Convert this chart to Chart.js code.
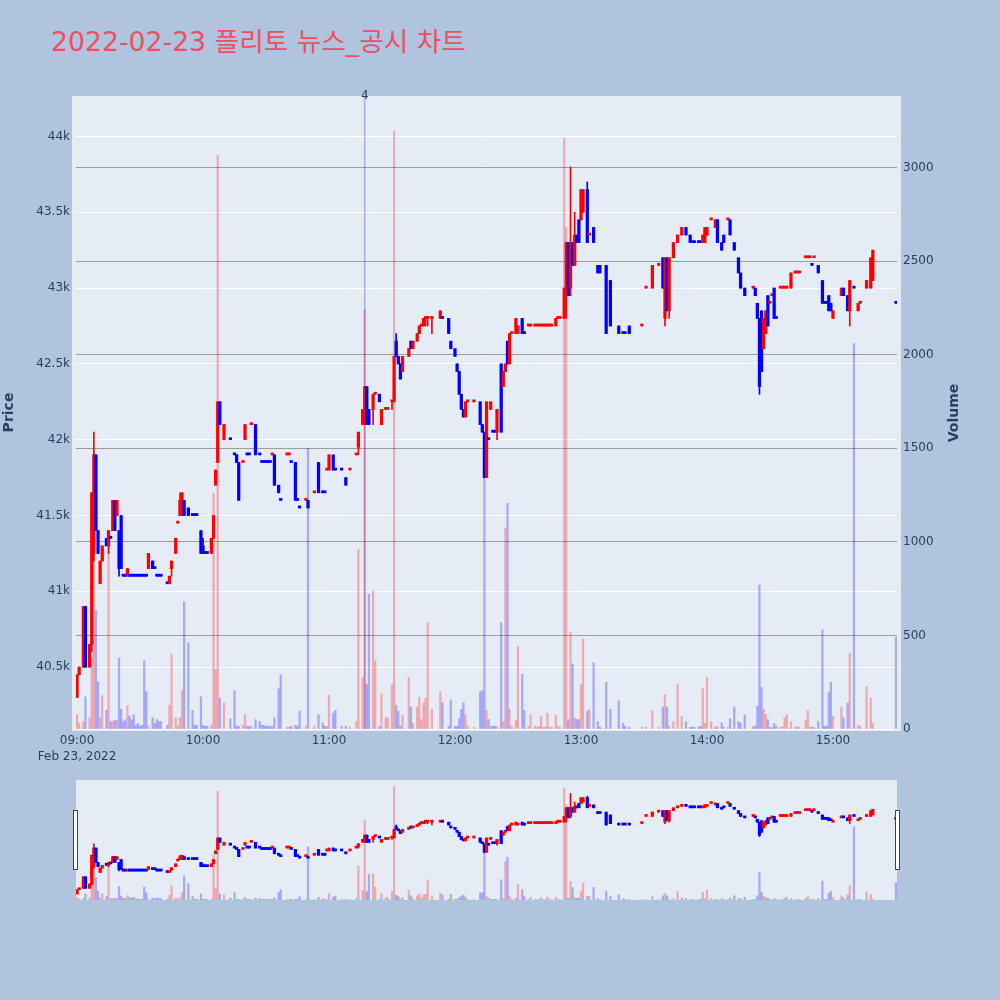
<!DOCTYPE html>
<html lang="ko">
<head>
<meta charset="utf-8">
<title>2022-02-23 플리토 뉴스_공시 차트</title>
<script src="https://cdn.jsdelivr.net/npm/chart.js@4.4.1/dist/chart.umd.min.js"></script>
<style>
  html, body { margin:0; padding:0; background:#B0C4DE; }
  body { width:1000px; height:1000px; position:relative; overflow:hidden; font-family:'DejaVu Sans','Noto Sans CJK KR',sans-serif; }
  #title { position:absolute; left:51px; top:28px; font-size:26.7px; line-height:27px; color:#EC5064; white-space:nowrap; }
  #mainChart { position:absolute; left:0; top:0; }
  #sliderChart { position:absolute; left:0; top:770px; }
  #volTitle { position:absolute; left:913px; top:403px; width:80px; height:20px; line-height:20px; text-align:center; transform:rotate(-90deg); font-weight:bold; font-size:14px; color:#2a3f5f; }
</style>
</head>
<body>
<div id="title">2022-02-23 플리토 뉴스_공시 차트</div>
<canvas id="mainChart" width="1000" height="770"></canvas>
<canvas id="sliderChart" width="1000" height="140"></canvas>
<div id="volTitle">Volume</div>
<script>
// ---- data: minute offsets from 09:00, OHLC and volume ----
const minutes = [
  0,1,3,4,6,7,8,9,10,11,
  12,14,15,16,17,18,19,20,21,22,
  23,24,25,26,27,28,29,30,31,32,
  33,34,36,37,38,39,40,43,44,45,
  47,48,49,50,51,53,55,56,57,59,
  60,61,62,64,65,66,67,68,70,73,
  75,76,77,79,80,81,82,83,85,87,
  88,89,90,91,92,93,94,96,97,100,
  101,102,104,105,106,109,110,113,115,117,
  118,119,120,122,123,126,128,130,133,134,
  136,137,138,139,141,142,144,145,147,148,
  150,151,152,153,154,155,158,159,160,162,
  163,164,165,166,167,169,173,174,177,178,
  180,181,182,183,184,185,186,189,192,193,
  194,195,196,197,198,199,200,202,203,204,
  205,206,207,209,210,212,213,215,216,218,
  219,220,221,222,223,224,225,226,228,229,
  230,232,233,234,235,236,237,238,239,240,
  241,243,244,246,248,249,252,254,258,260,
  261,263,269,271,274,277,279,280,281,282,
  284,286,288,290,292,293,294,296,297,298,
  299,300,302,304,305,307,308,310,311,313,
  315,316,318,322,323,324,325,326,327,328,
  329,330,331,332,333,335,336,337,338,340,
  342,343,344,347,348,349,350,351,353,355,
  356,357,358,359,360,364,365,367,368,370,
  372,373,376,378,379,390
];
const opens = [
  40300,40450,40500,40900,40500,40650,41250,41900,41400,41050,
  41200,41350,41300,41350,41400,41600,41500,41400,41500,41100,
  41100,41100,41100,41100,41100,41100,41100,41100,41100,41100,
  41100,41150,41200,41150,41100,41100,41100,41050,41050,41150,
  41250,41450,41500,41500,41600,41550,41500,41500,41500,41400,
  41300,41250,41250,41250,41350,41700,41850,42250,42000,42000,
  41900,41900,41850,41850,42000,41900,41900,42100,42100,41900,
  41850,41850,41850,41850,41850,41900,41900,41700,41600,41900,
  41900,41850,41850,41600,41550,41600,41600,41650,41850,41650,
  41650,41800,41800,41900,41800,41800,41750,41800,41900,41950,
  42100,42100,42350,42200,42200,42300,42300,42100,42200,42200,
  42250,42250,42650,42550,42500,42450,42550,42650,42600,42650,
  42700,42750,42750,42800,42800,42800,42800,42800,42800,42650,
  42600,42500,42450,42300,42200,42150,42250,42250,42250,42100,
  42050,41750,42000,42200,42050,42050,42050,42500,42350,42450,
  42650,42500,42700,42700,42700,42800,42700,42750,42750,42750,
  42750,42750,42750,42750,42750,42750,42750,42750,42750,42800,
  42800,42800,43000,43300,43000,43300,43150,43350,43450,43450,
  43500,43650,43350,43400,43150,43150,43150,43050,42750,42700,
  42700,42750,42750,43000,43000,43150,43200,42800,43200,42850,
  43200,43300,43350,43400,43350,43300,43300,43300,43300,43300,
  43300,43350,43450,43400,43450,43300,43350,43450,43450,43300,
  43200,43100,43000,43000,43000,42900,42800,42850,42600,42700,
  42950,42900,42950,43000,42800,43000,43000,43000,43000,43000,
  43100,43100,43100,43200,43200,43200,43150,43200,43150,43050,
  42900,42900,42950,42900,42800,42950,43000,42950,42850,43000,
  42850,42900,43000,43000,43050,42900
];
const highs = [
  40450,40500,40900,40900,40650,41650,42050,41900,41400,41200,
  41300,41350,41400,41350,41600,41600,41600,41400,41500,41100,
  41100,41150,41100,41100,41100,41100,41100,41100,41100,41100,
  41100,41250,41200,41150,41100,41100,41100,41050,41100,41200,
  41350,41450,41650,41650,41600,41550,41500,41500,41500,41400,
  41350,41250,41250,41350,41500,41800,42250,42250,42100,42000,
  41900,41900,41850,41850,42100,41900,41900,42100,42100,41900,
  41850,41850,41850,41850,41850,41900,41900,41700,41600,41900,
  41900,41850,41850,41600,41550,41600,41600,41650,41850,41650,
  41650,41800,41900,41900,41800,41800,41750,41800,41900,42050,
  42200,42350,42350,42200,42300,42300,42300,42200,42200,42200,
  42250,42550,42700,42550,42500,42550,42600,42650,42650,42700,
  42750,42750,42800,42800,42800,42800,42850,42800,42800,42650,
  42600,42500,42450,42300,42200,42250,42250,42250,42250,42100,
  42050,42250,42000,42250,42050,42050,42200,42500,42450,42500,
  42650,42700,42700,42800,42750,42800,42700,42750,42750,42750,
  42750,42750,42750,42750,42750,42750,42750,42750,42800,42800,
  42800,43000,43300,43300,43800,43300,43500,43350,43450,43650,
  43650,43700,43350,43400,43150,43150,43150,43050,42750,42700,
  42700,42750,42750,43000,43150,43150,43200,43200,43200,43200,
  43300,43350,43400,43400,43350,43300,43300,43300,43300,43350,
  43400,43400,43450,43450,43450,43300,43350,43450,43450,43300,
  43200,43100,43000,43000,43000,42900,42800,42850,42800,42850,
  42950,42900,42950,43000,42800,43000,43000,43000,43000,43100,
  43100,43100,43100,43200,43200,43200,43150,43200,43150,43050,
  42900,42900,42950,42900,42850,43000,43000,42950,43050,43000,
  42900,42900,43050,43200,43250,42900
];
const lows = [
  40300,40450,40500,40500,40500,40600,41200,41400,41250,41050,
  41200,41300,41250,41350,41400,41400,41500,41100,41150,41100,
  41100,41100,41100,41100,41100,41100,41100,41100,41100,41100,
  41100,41150,41150,41150,41100,41100,41100,41050,41050,41100,
  41250,41450,41500,41500,41500,41500,41500,41500,41500,41250,
  41250,41250,41250,41250,41350,41700,41850,42100,42000,42000,
  41900,41850,41600,41850,42000,41900,41900,42100,41900,41900,
  41850,41850,41850,41850,41850,41900,41700,41650,41600,41900,
  41900,41850,41600,41600,41550,41600,41550,41650,41650,41650,
  41650,41800,41800,41800,41800,41800,41700,41800,41900,41900,
  42100,42100,42100,42100,42100,42300,42250,42100,42200,42200,
  42200,42250,42550,42500,42400,42450,42550,42600,42600,42650,
  42700,42750,42750,42750,42750,42700,42800,42800,42700,42600,
  42550,42450,42300,42200,42150,42150,42250,42250,42100,42050,
  41750,41750,42000,42200,42050,42050,42000,42050,42350,42450,
  42500,42500,42700,42700,42700,42700,42700,42750,42750,42750,
  42750,42750,42750,42750,42750,42750,42750,42750,42750,42800,
  42800,42800,42800,42950,42950,43150,43150,43300,43300,43450,
  43500,43300,43350,43300,43100,43100,42700,42750,42700,42700,
  42700,42700,42750,43000,43000,43150,43000,42750,42850,42800,
  43200,43300,43350,43350,43300,43300,43300,43300,43300,43300,
  43300,43350,43450,43400,43300,43250,43300,43450,43350,43250,
  43100,43000,42950,43000,42950,42800,42300,42450,42600,42700,
  42750,42900,42950,42800,42800,43000,43000,43000,43000,43000,
  43100,43100,43100,43200,43200,43200,43150,43200,43100,42900,
  42900,42900,42850,42850,42800,42950,42950,42850,42750,43000,
  42850,42900,43000,43000,43050,42900
];
const closes = [
  40450,40500,40900,40500,40650,41650,41900,41400,41250,41200,
  41300,41300,41400,41350,41600,41400,41600,41150,41150,41100,
  41100,41150,41100,41100,41100,41100,41100,41100,41100,41100,
  41100,41250,41150,41150,41100,41100,41100,41050,41100,41200,
  41350,41450,41600,41650,41500,41500,41500,41500,41500,41250,
  41250,41250,41250,41350,41500,41800,42250,42100,42100,42000,
  41900,41850,41600,41850,42100,41900,41900,42100,41900,41900,
  41850,41850,41850,41850,41850,41900,41700,41650,41600,41900,
  41900,41850,41600,41600,41550,41600,41550,41650,41650,41650,
  41650,41800,41900,41800,41800,41800,41700,41800,41900,42050,
  42200,42350,42100,42100,42300,42300,42250,42200,42200,42200,
  42250,42550,42550,42500,42400,42550,42600,42600,42650,42700,
  42750,42750,42800,42800,42800,42800,42850,42800,42700,42600,
  42550,42450,42300,42200,42150,42250,42250,42250,42100,42050,
  41750,42250,42000,42250,42050,42050,42200,42050,42450,42500,
  42500,42700,42700,42800,42750,42700,42700,42750,42750,42750,
  42750,42750,42750,42750,42750,42750,42750,42750,42800,42800,
  42800,43000,43300,42950,43300,43150,43350,43300,43300,43650,
  43650,43300,43350,43300,43100,43100,42700,42750,42700,42700,
  42700,42700,42750,43000,43150,43150,43000,43200,42850,43200,
  43300,43350,43400,43350,43300,43300,43300,43300,43300,43350,
  43400,43400,43450,43450,43300,43250,43300,43450,43350,43250,
  43100,43000,42950,43000,42950,42800,42350,42450,42800,42850,
  42750,42900,42950,42800,42800,43000,43000,43000,43000,43100,
  43100,43100,43100,43200,43200,43200,43150,43200,43100,42900,
  42900,42900,42850,42850,42850,43000,42950,42850,43050,43000,
  42900,42900,43050,43200,43250,42900
];
const volumes = [
  77,30,40,172,60,380,1470,634,250,60,
  178,100,950,40,40,46,46,380,105,40,
  50,123,68,50,77,20,30,15,20,365,
  200,15,60,30,50,40,40,20,128,400,
  60,15,60,205,680,460,100,20,20,172,
  20,15,15,20,1260,315,3065,165,140,55,
  205,15,15,20,77,15,15,15,50,40,
  20,20,15,15,15,15,60,215,290,10,
  10,15,20,15,95,15,1500,15,77,33,
  15,15,180,85,100,15,15,10,40,960,
  275,2240,238,720,737,363,15,187,60,60,
  238,3196,128,95,15,73,275,117,30,117,
  172,50,140,165,568,105,200,140,15,155,
  15,15,55,105,140,77,15,10,200,205,
  1348,100,50,15,15,15,15,568,40,1074,
  1206,105,15,45,442,293,99,15,77,15,
  10,15,68,10,10,84,10,10,73,15,
  10,3157,2680,50,517,348,60,50,50,238,
  480,95,105,355,40,10,250,105,150,30,
  15,10,10,10,100,10,117,183,117,15,
  40,238,68,40,10,10,10,10,15,215,
  30,275,40,15,10,33,10,10,55,117,
  40,33,75,15,15,121,770,222,105,77,
  50,10,10,30,15,10,10,60,77,40,
  10,10,10,46,99,10,10,10,40,530,
  15,15,194,250,70,117,60,140,403,2060,
  20,15,227,165,30,490
];
const tickMinutes = [0,60,120,180,240,300,360];
const tickLabels = ['09:00','10:00','11:00','12:00','13:00','14:00','15:00'];
const dateLabel = 'Feb 23, 2022';
const priceTicks = [40500,41000,41500,42000,42500,43000,43500,44000];
const volumeTicks = [0,500,1000,1500,2000,2500,3000];
const newsMinutes = [137];
const newsLabels = ['4'];

// ---- styling ----
const FONT = "'DejaVu Sans', sans-serif";
const TXT = '#2a3f5f';
const UP = '#FF0000', DOWN = '#0000FF';
const PRICE_MIN = 40092, PRICE_MAX = 44267, VOL_MAX = 3383;
Chart.defaults.font.family = FONT;

const dirs = [];
let prevDir = 1;
for (let i = 0; i < minutes.length; i++) {
  let d;
  if (closes[i] > opens[i]) d = 1;
  else if (closes[i] < opens[i]) d = -1;
  else if (i > 0 && closes[i] > closes[i-1]) d = 1;
  else if (i > 0 && closes[i] < closes[i-1]) d = -1;
  else d = prevDir;
  dirs.push(d); prevDir = d;
}
const candleColors = dirs.map(d => d > 0 ? UP : DOWN);
const volColors = dirs.map(d => d > 0 ? 'rgba(255,0,0,0.28)' : 'rgba(0,0,255,0.28)');

function buildDatasets() {
  return [
    { label:'Volume', data: minutes.map((m,i) => ({x:m, y:volumes[i]})), yAxisID:'y1',
      backgroundColor: volColors, barThickness:1.6, grouped:false, order:3 },
    { label:'High-Low', data: minutes.map((m,i) => ({x:m, y:[lows[i], highs[i]]})), yAxisID:'y',
      backgroundColor: candleColors, barThickness:1, grouped:false, order:2 },
    { label:'Open-Close', data: minutes.map((m,i) => ({x:m, y:[opens[i], closes[i]]})), yAxisID:'y',
      backgroundColor: candleColors, barThickness:2.6, minBarLength:2, grouped:false, order:1 }
  ];
}

const plotBg = {
  id:'plotBg',
  beforeDraw(chart, args, opts) {
    const a = chart.chartArea, ctx = chart.ctx;
    ctx.save();
    ctx.fillStyle = '#E5ECF6';
    ctx.fillRect(a.left - opts.padX, a.top, a.right - a.left + 2*opts.padX, a.bottom - a.top + opts.padBottom);
    ctx.restore();
  }
};
const newsMarker = {
  id:'newsMarker',
  beforeDatasetsDraw(chart) {
    const a = chart.chartArea, ctx = chart.ctx, xs = chart.scales.x;
    ctx.save();
    newsMinutes.forEach((m, i) => {
      const px = xs.getPixelForValue(m);
      ctx.strokeStyle = 'rgba(80,100,230,0.45)';
      ctx.lineWidth = 1.5;
      ctx.beginPath(); ctx.moveTo(px, a.top); ctx.lineTo(px, a.bottom); ctx.stroke();
    });
    ctx.restore();
  },
  afterDraw(chart) {
    const a = chart.chartArea, ctx = chart.ctx, xs = chart.scales.x;
    ctx.save();
    ctx.fillStyle = TXT; ctx.font = "12px " + FONT; ctx.textAlign = 'center'; ctx.textBaseline = 'middle';
    newsMinutes.forEach((m, i) => ctx.fillText(newsLabels[i], xs.getPixelForValue(m), a.top));
    ctx.restore();
  }
};
const sliderHandles = {
  id:'sliderHandles',
  afterDraw(chart) {
    const a = chart.chartArea, ctx = chart.ctx;
    ctx.save();
    ctx.fillStyle = '#FFFFFF'; ctx.strokeStyle = '#444444'; ctx.lineWidth = 1;
    [a.left - 2.5, a.right - 1.5].forEach(x => {
      ctx.fillRect(x, a.top + 30.5, 4, 59);
      ctx.strokeRect(x, a.top + 30.5, 4, 59);
    });
    ctx.restore();
  }
};

new Chart(document.getElementById('mainChart'), {
  type:'bar',
  data:{ datasets: buildDatasets() },
  options:{
    responsive:false, animation:false, devicePixelRatio:1,
    layout:{ padding:{ top:96, left:0, right:0, bottom:0 } },
    plugins:{ legend:{display:false}, tooltip:{enabled:false}, plotBg:{padX:4, padBottom:2} },
    scales:{
      x:{ type:'linear', min:-0.5, max:390.5, offset:false,
          grid:{display:false, drawTicks:false}, border:{display:false},
          afterBuildTicks: s => { s.ticks = tickMinutes.map(v => ({value:v})); },
          afterFit: s => { s.height = 41; },
          ticks:{ autoSkip:false, maxRotation:0, padding:4, color:TXT,
                  font:{family:FONT, size:12, lineHeight:1.35},
                  callback: v => { const i = tickMinutes.indexOf(v); if (i < 0) return ''; return i === 0 ? [tickLabels[i], dateLabel] : tickLabels[i]; } } },
      y:{ position:'left', min:PRICE_MIN, max:PRICE_MAX,
          grid:{color:'#FFFFFF', lineWidth:1, drawTicks:false}, border:{display:false},
          afterBuildTicks: s => { s.ticks = priceTicks.map(v => ({value:v})); },
          afterFit: s => { s.width = 76; },
          ticks:{ padding:6, color:TXT, font:{family:FONT, size:12}, callback: v => (v/1000) + 'k' },
          title:{ display:true, text:'Price', color:TXT, font:{family:FONT, size:14, weight:'bold'}, padding:{top:1, bottom:0} } },
      y1:{ position:'right', min:0, max:VOL_MAX,
           grid:{ color: c => (c.tick && c.tick.value === 0) ? '#FFFFFF' : '#9c9c9c', lineWidth:1, drawTicks:false }, border:{display:false},
           afterBuildTicks: s => { s.ticks = volumeTicks.map(v => ({value:v})); },
           afterFit: s => { s.width = 103; },
           ticks:{ padding:6, color:TXT, font:{family:FONT, size:12}, callback: v => String(v) } }
    }
  },
  plugins:[plotBg, newsMarker]
});

new Chart(document.getElementById('sliderChart'), {
  type:'bar',
  data:{ datasets: buildDatasets() },
  options:{
    responsive:false, animation:false, devicePixelRatio:1,
    layout:{ padding:{ top:10, bottom:10, left:76, right:103 } },
    plugins:{ legend:{display:false}, tooltip:{enabled:false}, plotBg:{padX:0, padBottom:0} },
    scales:{
      x:{ type:'linear', min:-0.5, max:390.5, offset:false, display:false },
      y:{ display:false, min:PRICE_MIN, max:PRICE_MAX },
      y1:{ display:false, position:'right', min:0, max:VOL_MAX }
    }
  },
  plugins:[plotBg, sliderHandles]
});
</script>
</body>
</html>
